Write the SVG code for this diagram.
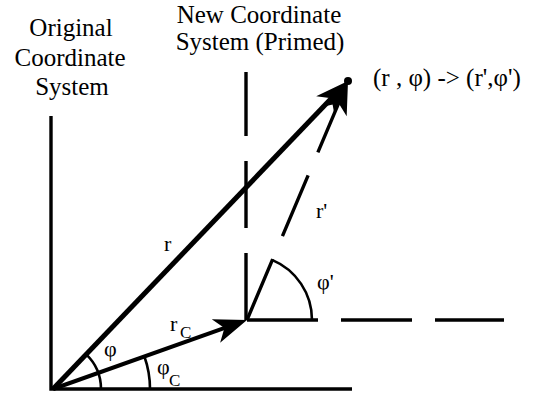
<svg xmlns="http://www.w3.org/2000/svg" width="533" height="394" viewBox="0 0 533 394">
  <style>
    .t { font-family: "Liberation Serif", "Times New Roman", serif; fill: #000; }
    .title { font-size: 25px; text-anchor: middle; }
    .lbl { font-size: 22px; }
    .sub { font-size: 17px; }
    .axis { stroke: #000; stroke-width: 3.4; fill: none; }
    .vec { stroke: #000; fill: none; }
    .dash { stroke: #000; stroke-width: 3.4; fill: none; }
    .arc { stroke: #000; stroke-width: 2.6; fill: none; }
  </style>
  <defs>
    <marker id="arrow" markerUnits="userSpaceOnUse" viewBox="0 0 40 26" markerWidth="40" markerHeight="26" refX="32" refY="13" orient="auto">
      <path d="M40,13 L7,0.5 L16,13 L7,25.5 Z" fill="#000"/>
    </marker>
  </defs>
  <rect x="0" y="0" width="533" height="394" fill="#fff"/>

  <g id="title-original">
    <text class="t title" x="71" y="36">Original</text>
    <text class="t title" x="70" y="65.5">Coordinate</text>
    <text class="t title" x="72" y="95">System</text>
  </g>
  <g id="title-new">
    <text class="t title" x="259" y="23">New Coordinate</text>
    <text class="t title" x="260" y="50">System (Primed)</text>
  </g>
  <g id="point">
    <circle cx="348" cy="81" r="4" fill="#000"/>
    <text class="t" x="373" y="86" font-size="25">(r , φ) -&gt; (r',φ')</text>
  </g>

  <g id="original-axes">
    <path class="axis" d="M51,116 V389 H352"/>
  </g>
  <g id="primed-axes">
    <path class="dash" d="M246,320 V72" stroke-dasharray="67 25"/>
    <path class="dash" d="M247,320 H504" stroke-dasharray="71 23"/>
  </g>

  <g id="connectors">
    <path class="vec" stroke-width="5" d="M53,389 L342.5,86.8" marker-end="url(#arrow)"/>
    <path class="vec" stroke-width="4" d="M53,389 L239.5,322.7" marker-end="url(#arrow)"/>
    <path class="vec" stroke-width="3.4" d="M247,320 L344.9,88.4" stroke-dasharray="66 25" marker-end="url(#arrow)"/>
  </g>

  <g id="angles">
    <path class="arc" d="M101,389 A48,48 0 0 0 86.2,354.4"/>
    <path class="arc" d="M150,389 A97,97 0 0 0 144.4,356.5"/>
    <path class="arc" d="M312,320 A65,65 0 0 0 272,259.9"/>
  </g>

  <g id="labels">
    <text class="t lbl" x="164" y="251">r</text>
    <text class="t lbl" x="316" y="218">r'</text>
    <text class="t lbl" x="170" y="331">r</text>
    <text class="t sub" x="180" y="338">C</text>
    <text class="t lbl" x="104" y="356">φ</text>
    <text class="t lbl" x="157" y="374">φ</text>
    <text class="t sub" x="169" y="386">C</text>
    <text class="t lbl" x="317" y="289">φ'</text>
  </g>
</svg>
